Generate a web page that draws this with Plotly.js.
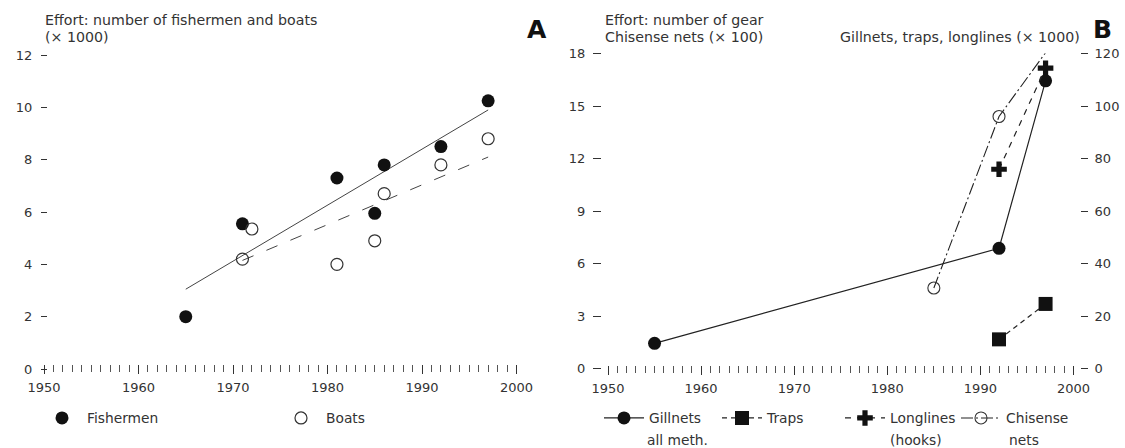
<!DOCTYPE html>
<html>
<head>
<meta charset="utf-8">
<script src="https://cdn.plot.ly/plotly-3.0.1.min.js"></script>
<style>html,body{margin:0;padding:0;background:#fff;}#chart{width:1125px;height:448px;}</style>
</head>
<body>
<div id="chart"></div>
<script>
// ---- Data ----
const yearTicks = [1950, 1960, 1970, 1980, 1990, 2000];
const fishYears = [1965, 1971, 1981, 1985, 1986, 1992, 1997];
const fishValues = [2.0, 5.55, 7.3, 5.95, 7.8, 8.5, 10.25];
const boatYears = [1971, 1972, 1981, 1985, 1986, 1992, 1997];
const boatValues = [4.2, 5.35, 4.0, 4.9, 6.7, 7.8, 8.8];
const fishTrendYears = [1965, 1997];
const fishTrendValues = [3.05, 9.9];
const boatTrendYears = [1971, 1997];
const boatTrendValues = [4.15, 8.1];

const gillnetYears = [1955, 1992, 1997];
const gillnetValues = [9.6, 45.8, 109.6];
const trapYears = [1992, 1997];
const trapValues = [11.1, 24.6];
const longlineYears = [1992, 1997];
const longlineValues = [75.9, 114.4];
const chisenseYears = [1985, 1992, 1997];
const chisenseValues = [4.6, 14.4, 18.05];

// ---- Layout helpers (pixel -> paper) ----
const W = 1125, H = 448;
const px = v => v / W;
const py = v => (H - v) / H;
const ink = '#333';
const dark = '#111';
const FONT = 'DejaVu Sans';

const traces = [
  {x: fishTrendYears, y: fishTrendValues, xaxis: 'x', yaxis: 'y', mode: 'lines',
   line: {color: '#444', width: 1}, showlegend: false, hoverinfo: 'skip'},
  {x: boatTrendYears, y: boatTrendValues, xaxis: 'x', yaxis: 'y', mode: 'lines',
   line: {color: '#444', width: 1, dash: '12px,14px'}, showlegend: false, hoverinfo: 'skip'},
  {x: fishYears, y: fishValues, xaxis: 'x', yaxis: 'y', mode: 'markers', name: 'Fishermen',
   legend: 'legend', marker: {symbol: 'circle', size: 13, color: dark}, cliponaxis: false},
  {x: boatYears, y: boatValues, xaxis: 'x', yaxis: 'y', mode: 'markers', name: 'Boats',
   legend: 'legend2', marker: {symbol: 'circle-open', size: 12, color: ink, line: {width: 1.2, color: ink}}, cliponaxis: false},

  {x: gillnetYears, y: gillnetValues, xaxis: 'x2', yaxis: 'y3', mode: 'lines+markers', name: 'Gillnets',
   legend: 'legend3', line: {color: '#222', width: 1.2}, marker: {symbol: 'circle', size: 13, color: dark}, cliponaxis: false},
  {x: trapYears, y: trapValues, xaxis: 'x2', yaxis: 'y3', mode: 'lines+markers', name: 'Traps',
   legend: 'legend4', line: {color: '#222', width: 1.2, dash: '5px,4px'}, marker: {symbol: 'square', size: 14, color: dark}, cliponaxis: false},
  {x: longlineYears, y: longlineValues, xaxis: 'x2', yaxis: 'y3', mode: 'lines+markers', name: 'Longlines',
   legend: 'legend5', line: {color: '#222', width: 1.2, dash: '6px,6px'}, marker: {symbol: 'cross', size: 13, color: dark}, cliponaxis: false},
  {x: chisenseYears, y: chisenseValues, xaxis: 'x2', yaxis: 'y2', mode: 'lines+markers', name: 'Chisense',
   legend: 'legend6', line: {color: '#222', width: 1.1, dash: '12px,3px,2px,3px'},
   marker: {symbol: 'circle-open', size: 12, color: ink, line: {width: 1.1, color: ink}}, cliponaxis: false}
];

const xCommon = {
  range: [1950, 2000], tickvals: yearTicks, ticks: 'outside', ticklen: 9, tickwidth: 1, tickcolor: ink,
  minor: {dtick: 1, ticks: 'outside', ticklen: 7, tickwidth: 1, tickcolor: '#555', showgrid: false},
  showline: false, showgrid: false, zeroline: false, fixedrange: true,
  tickfont: {family: FONT, size: 13, color: ink}, ticklabelstandoff: 2
};
const yCommon = {
  ticks: 'outside', tickwidth: 1, tickcolor: ink, showline: false, showgrid: false, zeroline: false,
  fixedrange: true, tickfont: {family: FONT, size: 13, color: ink}
};

function legendAt(xpx) {
  return {x: px(xpx), xanchor: 'left', y: py(418), yanchor: 'middle', bgcolor: 'rgba(0,0,0,0)',
          borderwidth: 0, itemwidth: 40, font: {family: FONT, size: 13.8, color: ink}, tracegroupgap: 0};
}

function note(text, xpx, ypx, anchor, extra) {
  return Object.assign({text: text, xref: 'paper', yref: 'paper', x: px(xpx), y: py(ypx),
    xanchor: anchor || 'left', yanchor: 'middle', showarrow: false,
    font: {family: FONT, size: 14.2, color: ink}}, extra || {});
}

const layout = {
  width: W, height: H, margin: {l: 0, r: 0, t: 0, b: 0},
  paper_bgcolor: '#fff', plot_bgcolor: 'rgba(0,0,0,0)',
  font: {family: FONT, size: 13.5, color: ink},
  xaxis: Object.assign({}, xCommon, {domain: [px(44), px(516.5)], anchor: 'free', position: py(364)}),
  yaxis: Object.assign({}, yCommon, {domain: [py(369), py(55)], range: [0, 12], dtick: 2,
    anchor: 'free', position: px(47), ticklen: 6, ticklabelstandoff: 6}),
  xaxis2: Object.assign({}, xCommon, {domain: [px(608), px(1073.5)], anchor: 'free', position: py(365)}),
  yaxis2: Object.assign({}, yCommon, {domain: [py(368.5), py(53.5)], range: [0, 18], dtick: 3,
    anchor: 'free', position: px(601), ticklen: 8, ticklabelstandoff: 5}),
  yaxis3: Object.assign({}, yCommon, {domain: [py(368.5), py(53.5)], range: [0, 120], dtick: 20,
    overlaying: 'y2', side: 'right', anchor: 'free', position: px(1080), ticklen: 7, ticklabelstandoff: 4}),
  legend: legendAt(37),
  legend2: legendAt(276),
  legend3: legendAt(599),
  legend4: legendAt(717),
  legend5: legendAt(840),
  legend6: legendAt(956),
  annotations: [
    note('Effort: number of fishermen and boats', 43, 20),
    note('(× 1000)', 43, 37),
    note('A', 537, 29, 'center', {font: {family: FONT, size: 25, color: '#111', weight: 'bold'}}),
    note('Effort: number of gear', 603, 20),
    note('Chisense nets (× 100)', 603, 37),
    note('Gillnets, traps, longlines (× 1000)', 1082, 37, 'right'),
    note('B', 1102, 29, 'center', {font: {family: FONT, size: 25, color: '#111', weight: 'bold'}}),
    note('all meth.', 645, 440, 'left', {font: {family: FONT, size: 13.8, color: ink}}),
    note('(hooks)', 888, 440, 'left', {font: {family: FONT, size: 13.8, color: ink}}),
    note('nets', 1007, 440, 'left', {font: {family: FONT, size: 13.8, color: ink}})
  ]
};

Plotly.newPlot('chart', traces, layout, {displayModeBar: false, staticPlot: true});
</script>
</body>
</html>
